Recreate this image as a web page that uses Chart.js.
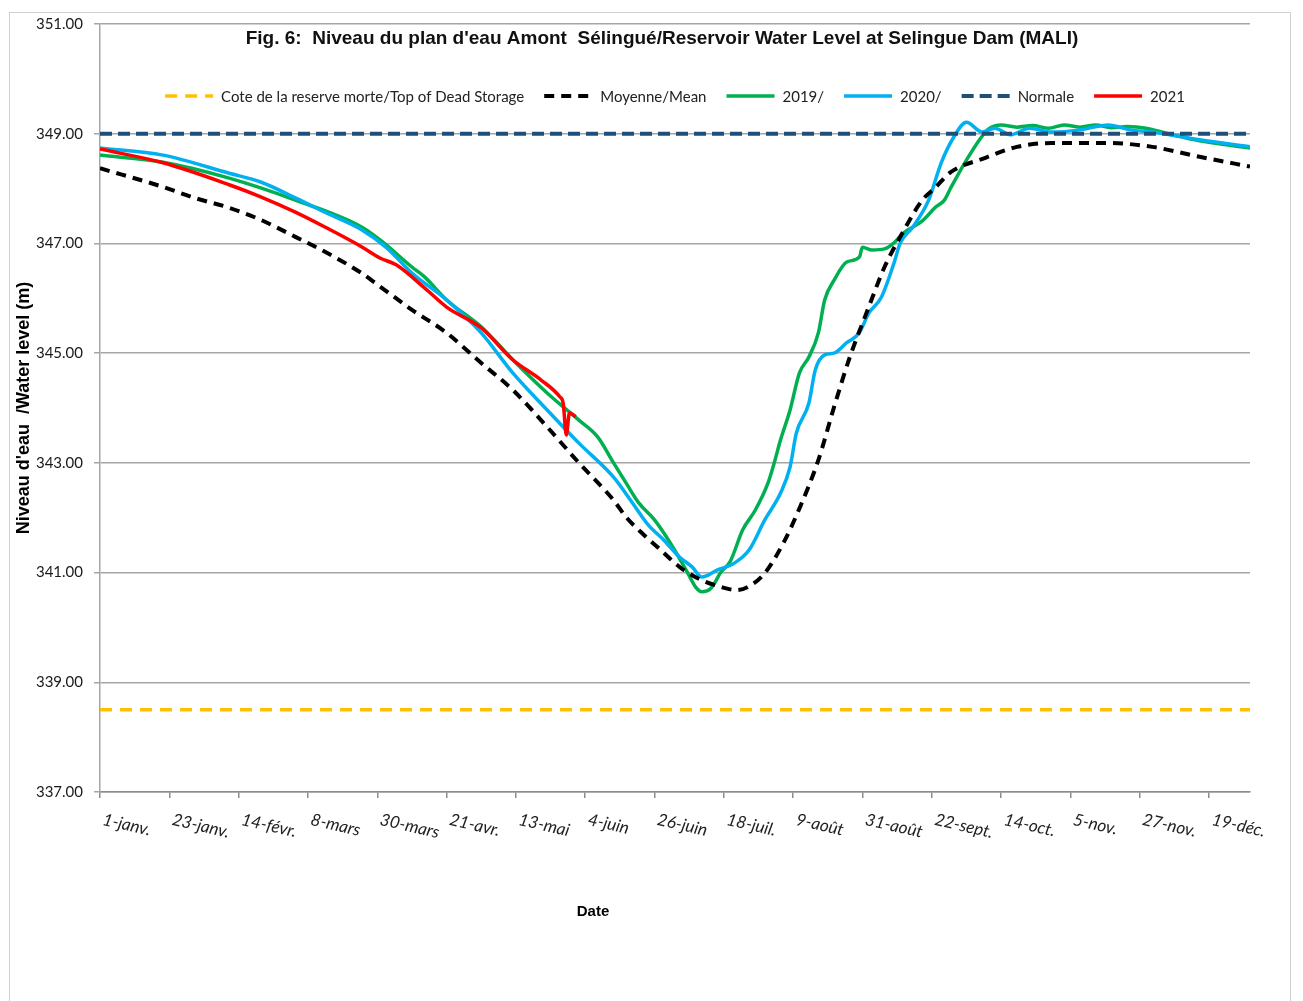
<!DOCTYPE html>
<html>
<head>
<meta charset="utf-8">
<title>Niveau du plan d'eau Amont Sélingué</title>
<script src="https://cdn.jsdelivr.net/npm/chart.js@4.4.1/dist/chart.umd.min.js"></script>
<style>
  html, body { margin: 0; padding: 0; background: #fff; }
  #wrap { position: relative; width: 1303px; height: 1001px; }
</style>
</head>
<body>
<div id="wrap"><canvas id="levelChart"></canvas></div>
<script>
// x = jour de l'année (1 = 1er janvier), y = niveau du plan d'eau (m)
const chartTitle = "Fig. 6:  Niveau du plan d'eau Amont  Sélingué/Reservoir Water Level at Selingue Dam (MALI)";

const tickDays = [1, 23, 45, 67, 89, 111, 133, 155, 177, 199, 221, 243, 265, 287, 309, 331, 353];
const tickLabels = ['1-janv.', '23-janv.', '14-févr.', '8-mars', '30-mars', '21-avr.', '13-mai', '4-juin',
  '26-juin', '18-juil.', '9-août', '31-août', '22-sept.', '14-oct.', '5-nov.', '27-nov.', '19-déc.'];

const deadStorageDays = [1, 366];
const deadStorageLevel = [338.5, 338.5];

const normaleDays = [1, 366];
const normaleLevel = [349, 349];

const meanDays = [1, 21, 31, 42, 52, 63, 73, 84, 90, 100, 111, 122, 132, 143, 153, 164, 168, 173, 179, 185,
  192, 198, 203, 207, 212, 218, 223, 229, 234, 239, 245, 250, 255, 262, 266, 271, 282, 292, 303, 321, 335, 350, 366];
const meanLevel = [348.37, 348.03, 347.83, 347.65, 347.43, 347.12, 346.83, 346.46, 346.21, 345.79,
  345.37, 344.82, 344.33, 343.65, 343.00, 342.32, 342.01, 341.72, 341.41, 341.10,
  340.86, 340.74, 340.68, 340.75, 340.99, 341.55, 342.17, 343.05, 344.02, 344.93,
  345.84, 346.57, 347.12, 347.79, 348.01, 348.30, 348.56, 348.76, 348.83, 348.83, 348.76, 348.58, 348.40];

const days2019 = [1, 21, 42, 63, 84, 90, 100, 104, 111, 122, 132, 143, 153, 159, 164, 168, 172, 177, 182, 187,
  190, 192, 195, 198, 201, 205, 209, 213, 215, 217, 220, 223, 226, 229, 231, 234, 238, 242, 243, 246,
  250, 253, 256, 262, 266, 269, 271, 276, 282, 284, 287, 292, 297, 302, 307, 312, 317, 322, 327, 333, 340, 350, 366];
const level2019 = [348.61, 348.48, 348.19, 347.79, 347.30, 347.06, 346.57, 346.39, 345.97, 345.48,
  344.88, 344.27, 343.78, 343.47, 343.00, 342.63, 342.27, 341.96, 341.54, 341.05,
  340.74, 340.65, 340.72, 341.00, 341.20, 341.78, 342.14, 342.63, 343.00, 343.42,
  343.96, 344.64, 344.93, 345.37, 345.97, 346.33, 346.66, 346.75, 346.93, 346.88,
  346.90, 347.01, 347.19, 347.41, 347.65, 347.79, 348.01, 348.52, 349.03, 349.12,
  349.16, 349.12, 349.15, 349.10, 349.16, 349.12, 349.16, 349.11, 349.13, 349.10, 349.00, 348.87, 348.74];

const days2020 = [1, 21, 42, 52, 63, 73, 84, 92, 100, 111, 122, 132, 143, 153, 164, 170, 175, 180, 185, 189,
  192, 197, 202, 207, 212, 217, 220, 222, 226, 228, 231, 234, 238, 242, 245, 249, 253, 255, 259, 264,
  268, 272, 276, 281, 285, 290, 296, 303, 312, 321, 328, 335, 350, 366];
const level2020 = [348.74, 348.61, 348.28, 348.12, 347.83, 347.55, 347.25, 346.92, 346.46, 345.97,
  345.37, 344.64, 343.96, 343.36, 342.74, 342.27, 341.87, 341.59, 341.28, 341.10,
  340.92, 341.05, 341.16, 341.41, 341.96, 342.45, 342.92, 343.54, 344.09, 344.69,
  344.97, 345.00, 345.19, 345.37, 345.73, 346.02, 346.64, 347.01, 347.30, 347.79,
  348.47, 348.94, 349.21, 349.03, 349.10, 348.98, 349.10, 349.03, 349.07, 349.16, 349.07, 349.03, 348.89, 348.76];

const days2021 = [1, 21, 42, 52, 63, 73, 84, 90, 95, 104, 111, 122, 132, 141, 147, 148, 149, 150, 151, 152];
const level2021 = [348.72, 348.47, 348.07, 347.85, 347.57, 347.28, 346.94, 346.73, 346.61, 346.19,
  345.84, 345.46, 344.88, 344.51, 344.20, 344.09, 343.51, 343.91, 343.88, 343.84];

function pts(days, levels) {
  return days.map((d, i) => ({ x: d, y: levels[i] }));
}

// titre, légende, étiquettes de dates inclinées et cadre
const decorPlugin = {
  id: 'decor',
  beforeDraw(chart) {
    const ctx = chart.ctx;
    ctx.save();
    ctx.strokeStyle = '#d0d0d0';
    ctx.lineWidth = 1;
    ctx.strokeRect(9.5, 12.5, chart.width - 22, chart.height);
    ctx.restore();
  },
  afterDraw(chart) {
    const ctx = chart.ctx;
    const area = chart.chartArea;
    const xScale = chart.scales.x;
    ctx.save();

    ctx.fillStyle = '#111';
    ctx.font = 'bold 19px "Liberation Sans"';
    ctx.textAlign = 'center';
    ctx.textBaseline = 'middle';
    ctx.fillText(chartTitle, 662, 39);

    // légende
    ctx.font = '15px Lato';
    ctx.textAlign = 'left';
    const sets = chart.data.datasets;
    const widths = sets.map(ds => 48 + 8 + ctx.measureText(ds.label).width);
    const total = widths.reduce((a, b) => a + b, 0) + 20 * (sets.length - 1);
    let lx = 675 - total / 2;
    const ly = 96;
    sets.forEach((ds, i) => {
      ctx.save();
      ctx.strokeStyle = ds.borderColor;
      ctx.lineWidth = ds.borderWidth;
      ctx.setLineDash(ds.borderDash || []);
      ctx.beginPath();
      ctx.moveTo(lx, ly);
      ctx.lineTo(lx + 48, ly);
      ctx.stroke();
      ctx.restore();
      ctx.fillStyle = '#222';
      ctx.fillText(ds.label, lx + 56, ly + 1);
      lx += widths[i] + 20;
    });

    // dates en abscisse
    ctx.font = 'italic 17px Lato';
    ctx.fillStyle = '#222';
    ctx.textBaseline = 'top';
    xScale.ticks.forEach(t => {
      const px = xScale.getPixelForValue(t.value);
      ctx.save();
      ctx.translate(px + 5, area.bottom + 19);
      ctx.rotate(13 * Math.PI / 180);
      ctx.fillText(t.label, 0, 0);
      ctx.restore();
    });

    ctx.font = 'bold 15px "Liberation Sans"';
    ctx.fillStyle = '#000';
    ctx.textAlign = 'center';
    ctx.textBaseline = 'middle';
    ctx.fillText('Date', 593, 912);
    ctx.restore();
  }
};

const ctx = document.getElementById('levelChart').getContext('2d');
new Chart(ctx, {
  type: 'line',
  data: {
    datasets: [
      { label: 'Cote de la reserve morte/Top of Dead Storage', data: pts(deadStorageDays, deadStorageLevel),
        borderColor: '#FFC000', borderWidth: 3.5, borderDash: [12, 8], order: 6 },
      { label: 'Moyenne/Mean', data: pts(meanDays, meanLevel),
        borderColor: '#000000', borderWidth: 4, borderDash: [10, 7], order: 3 },
      { label: '2019/', data: pts(days2019, level2019),
        borderColor: '#00B050', borderWidth: 3.5, order: 5 },
      { label: '2020/', data: pts(days2020, level2020),
        borderColor: '#00B0F0', borderWidth: 3.5, order: 4 },
      { label: 'Normale', data: pts(normaleDays, normaleLevel),
        borderColor: '#1F4E79', borderWidth: 4, borderDash: [12, 6], order: 2 },
      { label: '2021', data: pts(days2021, level2021),
        borderColor: '#FF0000', borderWidth: 3.5, order: 1 }
    ]
  },
  options: {
    responsive: true,
    maintainAspectRatio: false,
    animation: false,
    layout: { padding: { left: 0, right: 53, top: 24, bottom: 0 } },
    elements: {
      point: { radius: 0 },
      line: { fill: false, cubicInterpolationMode: 'monotone' }
    },
    plugins: {
      legend: { display: false },
      title: { display: false },
      tooltip: { enabled: false }
    },
    scales: {
      x: {
        type: 'linear',
        min: 1,
        max: 366,
        afterBuildTicks: s => { s.ticks = tickDays.map(v => ({ value: v })); },
        afterFit: s => { s.height = 209; },
        ticks: { display: false, callback: (v, i) => tickLabels[i] },
        grid: { drawOnChartArea: false, drawTicks: true, tickLength: 6, color: '#8c8c8c', lineWidth: 1.5 },
        border: { color: '#8c8c8c', width: 1.5 }
      },
      y: {
        min: 337,
        max: 351,
        afterFit: s => { s.width = 100; },
        ticks: {
          stepSize: 2,
          callback: v => v.toFixed(2),
          font: { family: 'Lato', size: 15 },
          color: '#1a1a1a',
          padding: 11
        },
        grid: { color: '#a6a6a6', lineWidth: 1.5, tickLength: 6 },
        border: { color: '#a6a6a6', width: 1.5 },
        title: {
          display: true,
          text: "Niveau d'eau  /Water level (m)",
          font: { family: 'Liberation Sans', size: 18, weight: 'bold' },
          color: '#000',
          padding: { top: 13, bottom: 0 }
        }
      }
    }
  },
  plugins: [decorPlugin]
});
</script>
</body>
</html>
